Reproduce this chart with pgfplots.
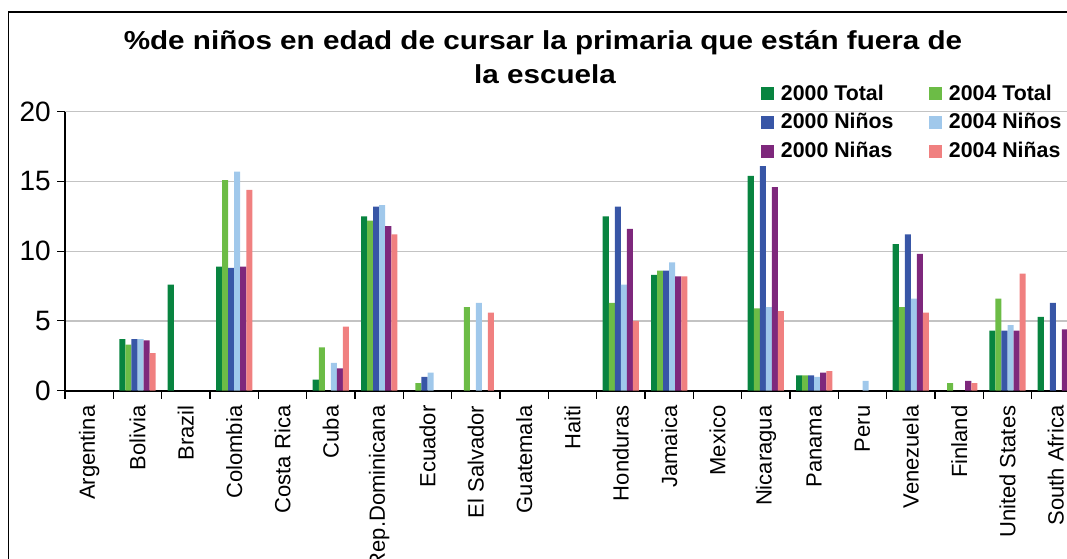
\documentclass[border=0pt]{standalone}
\usepackage{fontspec}
\setmainfont{Liberation Sans}
\usepackage{graphicx}
\usepackage{pgfplots}
\pgfplotsset{compat=1.18}
\usepackage{pgfplotstable}
\definecolor{cTa}{RGB}{8,132,64}
\definecolor{cTb}{RGB}{108,188,70}
\definecolor{cNa}{RGB}{56,86,166}
\definecolor{cNb}{RGB}{160,200,235}
\definecolor{cGa}{RGB}{126,40,124}
\definecolor{cGb}{RGB}{240,128,128}
\definecolor{gridc}{RGB}{195,195,195}

\pgfplotstableread{
x T00 T04 N00 N04 G00 G04
0 nan nan nan nan nan nan
1 3.7 3.3 3.7 3.7 3.6 2.7
2 7.6 nan nan nan nan nan
3 8.9 15.1 8.8 15.7 8.9 14.4
4 nan nan nan nan nan nan
5 0.8 3.1 nan 2.0 1.6 4.6
6 12.5 12.2 13.2 13.3 11.8 11.2
7 nan 0.55 1.0 1.3 nan nan
8 nan 6.0 nan 6.3 nan 5.6
9 nan nan nan nan nan nan
10 nan nan nan nan nan nan
11 12.5 6.3 13.2 7.6 11.6 5.0
12 8.3 8.6 8.6 9.2 8.2 8.2
13 nan nan nan nan nan nan
14 15.4 5.9 16.1 6.0 14.6 5.7
15 1.1 1.1 1.1 1.0 1.3 1.4
16 nan nan nan 0.7 nan nan
17 10.5 6.0 11.2 6.6 9.8 5.6
18 nan 0.55 nan nan 0.7 0.55
19 4.3 6.6 4.3 4.7 4.3 8.4
20 5.3 nan 6.3 nan 4.4 nan
}\data

\newcommand{\lsq}[2]{\makebox[126pt][l]{\textcolor{#1}{\rule{9.75pt}{9.75pt}}\hspace{5pt}#2}}

\begin{document}
\begin{tikzpicture}
\useasboundingbox (0pt,0pt) rectangle (800.25pt,-419.25pt);
\begin{scope}[x=0.75pt,y=-0.75pt]
\draw[line width=1.2pt] (8.5,12) rectangle (1200,700);
\node[font=\bfseries\fontsize{19.5}{20}\selectfont, anchor=base] at (543,50) {\scalebox{1.14}[1]{\%de niños en edad de cursar la primaria que están fuera de}};
\node[font=\bfseries\fontsize{19.5}{20}\selectfont, anchor=base] at (545,84) {\scalebox{1.14}[1]{la escuela}};
\end{scope}
\begin{axis}[
  at={(48.75pt,-293.03pt)}, anchor=south west,
  scale only axis, width=761.25pt, height=209.25pt,
  xmin=-0.5, xmax=20.5, ymin=0, ymax=20,
  axis lines=left, axis line style={-, black, line width=0.8pt},
  x axis line style={line width=1.2pt},
  ybar, bar width=0.125, 
  ytick={0,5,10,15,20},
  ymajorgrids, major grid style={gridc, line width=1pt},
  tick align=outside, major tick length=6pt,
  tick style={black, line width=0.8pt},
  xtick={-0.5,0.5,...,20.5}, xticklabels={},
  extra x ticks={0,1,...,20},
  extra x tick labels={Argentina,Bolivia,Brazil,Colombia,Costa Rica,Cuba,Rep.Dominicana,Ecuador,El Salvador,Guatemala,Haiti,Honduras,Jamaica,Mexico,Nicaragua,Panama,Peru,Venezuela,Finland,United States,South Africa},
  extra x tick style={major tick length=0pt, grid=none},
  xticklabel shift=11pt,
  /pgf/number format/assume math mode=true,
  xticklabel style={font=\fontsize{16.5}{17}\selectfont, rotate=90, anchor=east, inner sep=0pt},
  yticklabel style={font=\fontsize{21}{21}\selectfont, anchor=east, inner sep=0pt, xshift=-4.5pt},
  legend columns=2, legend cell align=left,
  legend image code/.code={},
  legend style={draw=none, fill=none, at={(0.6857,1.0993)}, anchor=north west,
    inner sep=0pt, font=\bfseries\fontsize{16}{16}\selectfont,
    nodes={inner sep=0pt, text height=12pt, text depth=0pt},
    column sep=0pt,
    row sep=9.5pt},
]
\addplot[fill=cTa, draw=none, bar shift=-0.3125] table[x=x,y=T00]{\data};
\addlegendentry{\lsq{cTa}{2000 Total}}
\addplot[fill=cTb, draw=none, bar shift=-0.1875] table[x=x,y=T04]{\data};
\addlegendentry{\lsq{cTb}{2004 Total}}
\addplot[fill=cNa, draw=none, bar shift=-0.0625] table[x=x,y=N00]{\data};
\addlegendentry{\lsq{cNa}{2000 Niños}}
\addplot[fill=cNb, draw=none, bar shift=0.0625] table[x=x,y=N04]{\data};
\addlegendentry{\lsq{cNb}{2004 Niños}}
\addplot[fill=cGa, draw=none, bar shift=0.1875] table[x=x,y=G00]{\data};
\addlegendentry{\lsq{cGa}{2000 Niñas}}
\addplot[fill=cGb, draw=none, bar shift=0.3125] table[x=x,y=G04]{\data};
\addlegendentry{\lsq{cGb}{2004 Niñas}}
\end{axis}
\end{tikzpicture}
\end{document}
